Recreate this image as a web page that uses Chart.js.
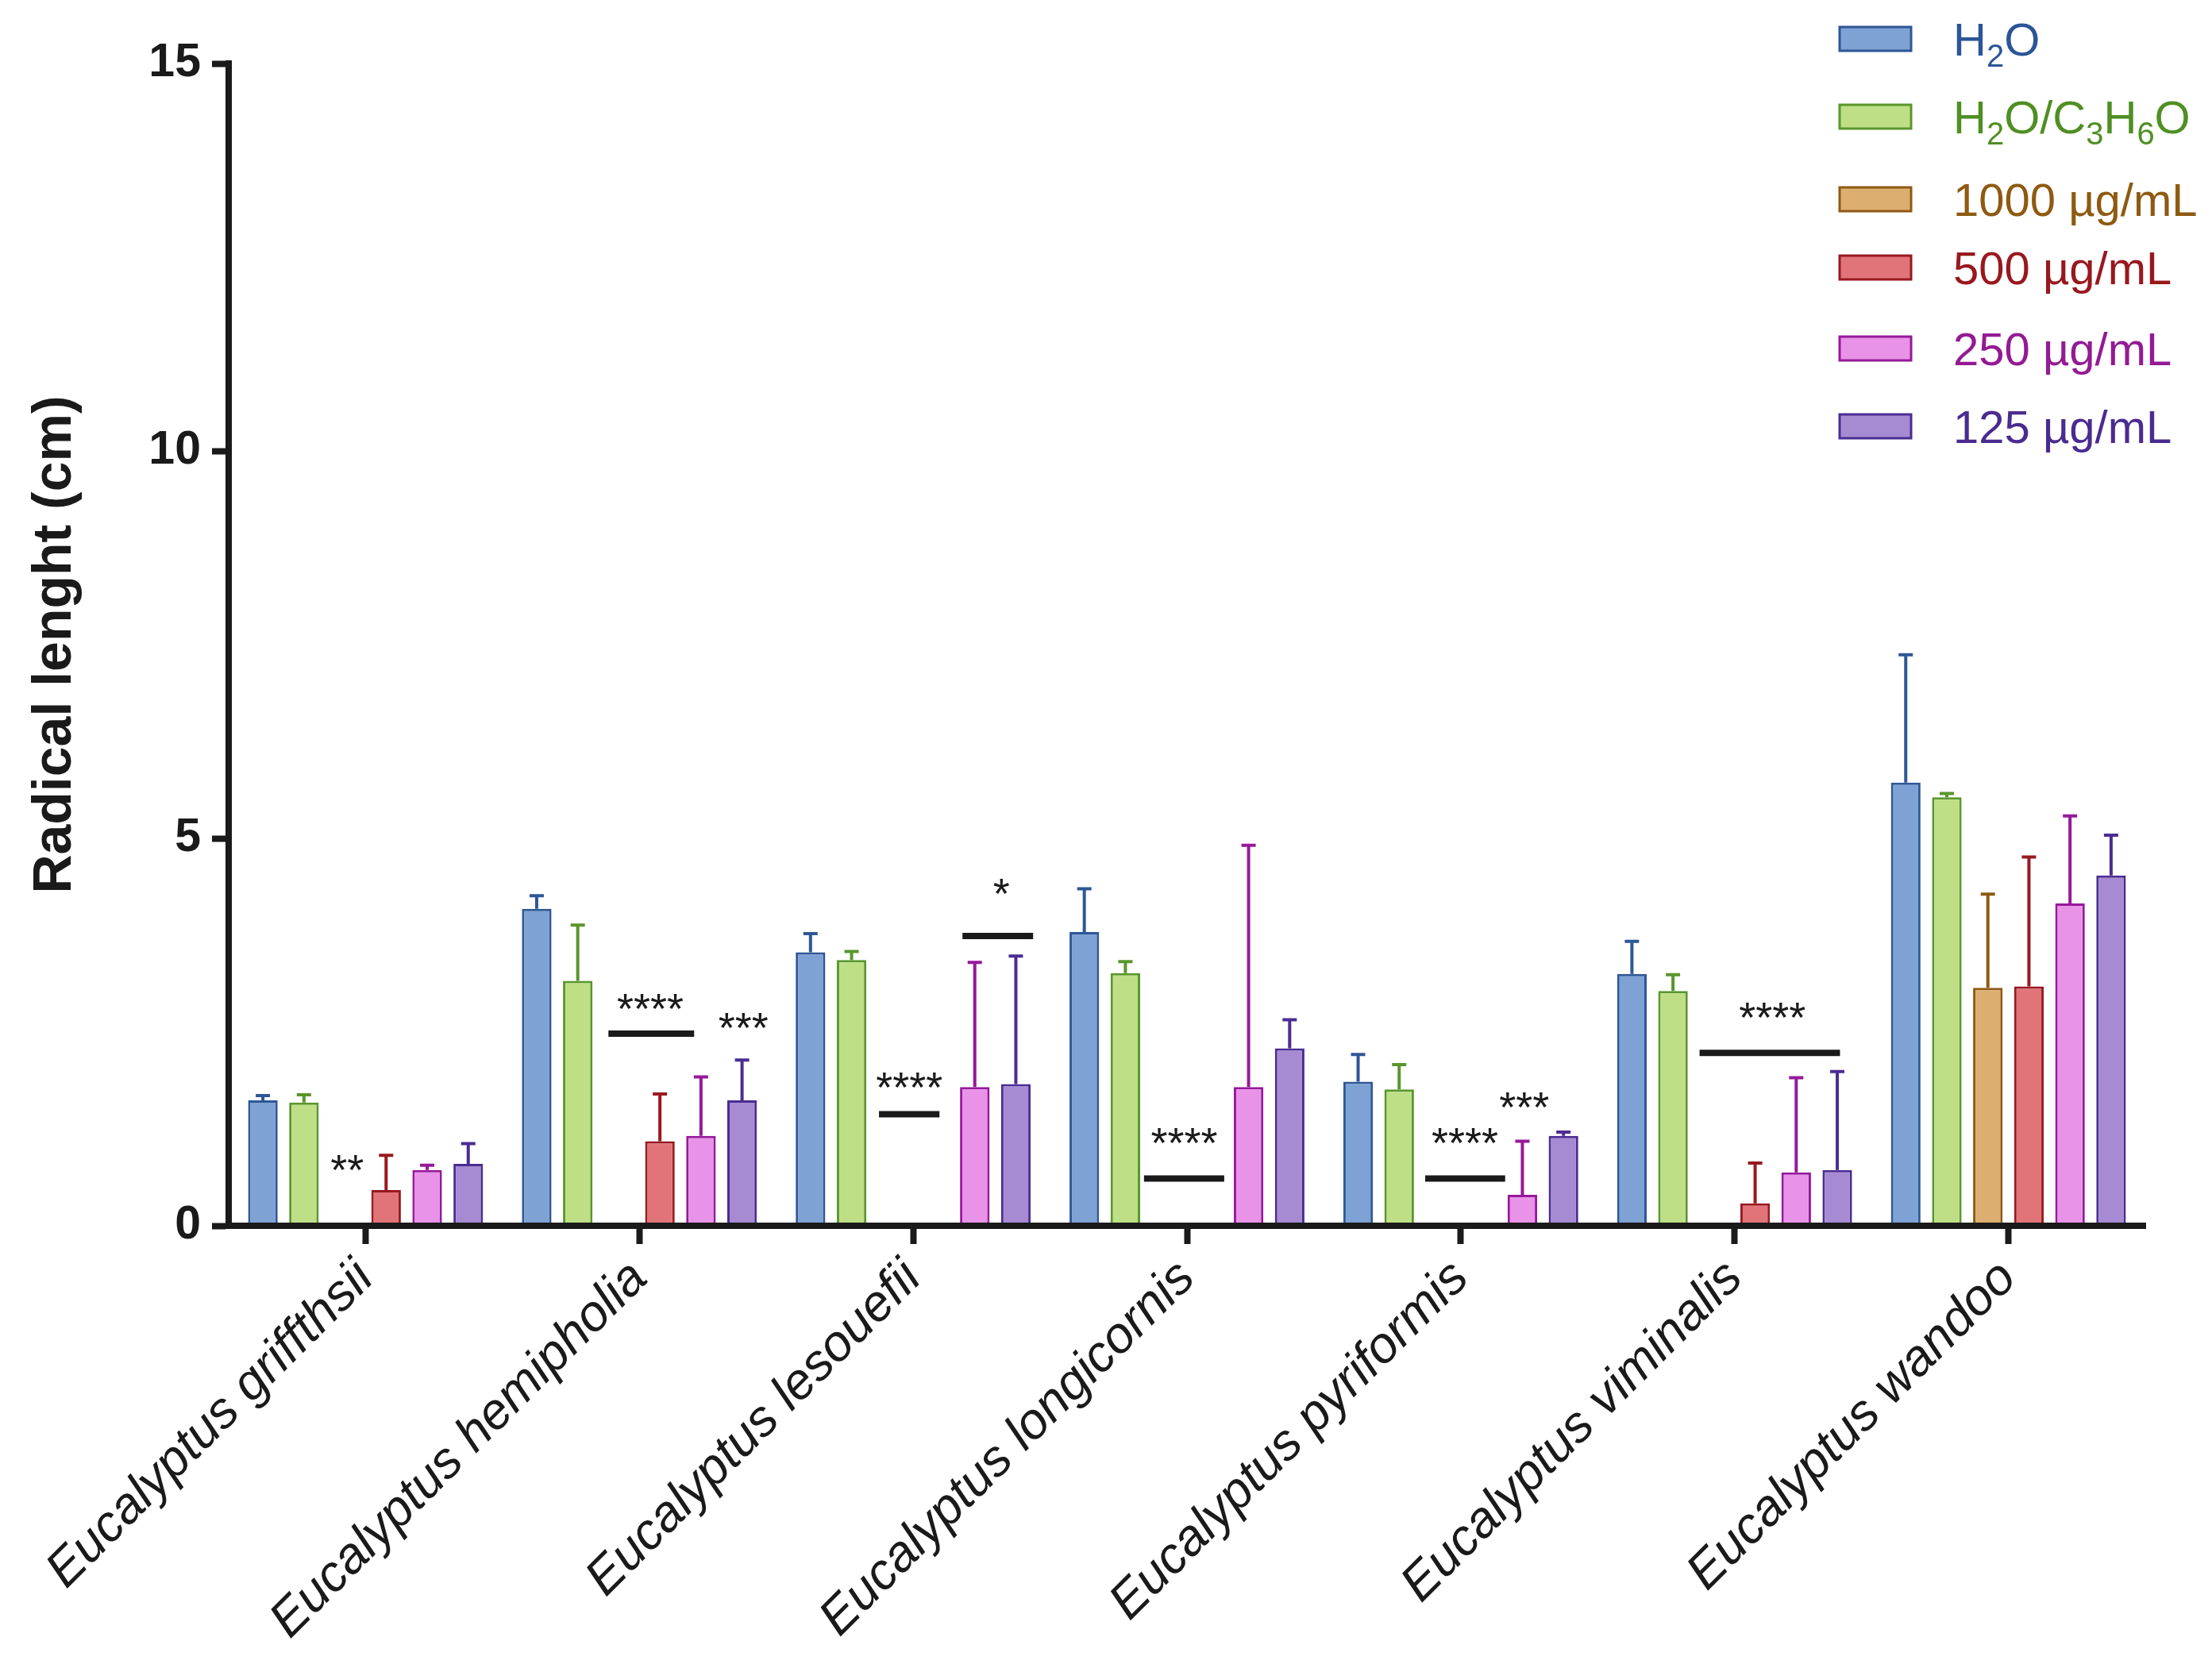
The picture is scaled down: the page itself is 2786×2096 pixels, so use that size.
<!DOCTYPE html>
<html>
<head>
<meta charset="utf-8">
<script src="https://cdn.jsdelivr.net/npm/chart.js@4.4.1/dist/chart.umd.min.js"></script>
<style>
  html, body { margin: 0; padding: 0; background: #fff; }
</style>
</head>
<body>
<canvas id="bars" width="2786" height="2096"></canvas>
<script>
// categories and series
const species = ['Eucalyptus griffthsii', 'Eucalyptus hemipholia', 'Eucalyptus lesouefii',
  'Eucalyptus longicornis', 'Eucalyptus pyriformis', 'Eucalyptus viminalis', 'Eucalyptus wandoo'];
const seriesNames = ['H₂O', 'H₂O/C₃H₆O', '1000 µg/mL', '500 µg/mL', '250 µg/mL', '125 µg/mL'];

// means (cm) and upper error (SD)
const h2o = [1.62, 4.09, 3.53, 3.79, 1.86, 3.25, 5.72];
const h2oSd = [0.06, 0.17, 0.24, 0.56, 0.35, 0.42, 1.65];
const h2oAcetone = [1.59, 3.16, 3.43, 3.26, 1.76, 3.03, 5.53];
const h2oAcetoneSd = [0.10, 0.72, 0.11, 0.15, 0.32, 0.21, 0.05];
const c1000 = [0, 0, 0, 0, 0, 0, 3.07];
const c1000Sd = [0, 0, 0, 0, 0, 0, 1.21];
const c500 = [0.46, 1.09, 0, 0, 0, 0.29, 3.09];
const c500Sd = [0.45, 0.61, 0, 0, 0, 0.52, 1.67];
const c250 = [0.72, 1.16, 1.79, 1.79, 0.40, 0.69, 4.16];
const c250Sd = [0.06, 0.76, 1.61, 3.12, 0.69, 1.22, 1.13];
const c125 = [0.80, 1.62, 1.83, 2.29, 1.16, 0.72, 4.52];
const c125Sd = [0.26, 0.52, 1.65, 0.37, 0.05, 1.27, 0.52];

const yTicks = [0, 5, 10, 15];

// significance marks (category index, offset in category units, value)
const starText = ['**', '****', '***', '****', '*', '****', '****', '***', '****'];
const starCat = [0, 1, 1, 2, 2, 3, 4, 4, 5];
const starOff = [-0.067, 0.04, 0.38, -0.014, 0.322, -0.01, 0.015, 0.232, 0.138];
const starY = [0.85, 2.93, 2.68, 1.91, 4.41, 1.20, 1.20, 1.66, 2.82];
const barCat = [1, 2, 2, 3, 4, 5];
const barFrom = [-0.113, -0.125, 0.18, -0.157, -0.13, -0.128];
const barTo = [0.2, 0.096, 0.438, 0.136, 0.162, 0.385];
const barY = [2.48, 1.44, 3.74, 0.61, 0.61, 2.23];

const fills = ['#7ea2d4', '#bfdf87', '#dcae70', '#e07479', '#e893e8', '#a68bd2'];
const edges = ['#2e5797', '#5a962c', '#8f5a14', '#98191f', '#96199a', '#4b2c93'];
const textCols = ['#2b5597', '#4f8f23', '#8e5a12', '#98181e', '#941a94', '#4a2b8f'];
const ink = '#1a1a1a';

const means = [h2o, h2oAcetone, c1000, c500, c250, c125];
const sds = [h2oSd, h2oAcetoneSd, c1000Sd, c500Sd, c250Sd, c125Sd];

const errorBars = {
  id: 'errorBars',
  afterDatasetsDraw(chart) {
    const ctx = chart.ctx;
    const y = chart.scales.y;
    ctx.save();
    ctx.lineWidth = 4;
    ctx.lineCap = 'butt';
    chart.data.datasets.forEach((ds, i) => {
      const meta = chart.getDatasetMeta(i);
      meta.data.forEach((el, j) => {
        const sd = sds[i][j];
        if (!sd) return;
        const top = y.getPixelForValue(ds.data[j] + sd);
        ctx.strokeStyle = edges[i];
        ctx.beginPath();
        ctx.moveTo(el.x, el.y);
        ctx.lineTo(el.x, top);
        ctx.moveTo(el.x - 9, top);
        ctx.lineTo(el.x + 9, top);
        ctx.stroke();
      });
    });
    ctx.restore();
  }
};

const significance = {
  id: 'significance',
  afterDatasetsDraw(chart) {
    const ctx = chart.ctx;
    const x = chart.scales.x, y = chart.scales.y;
    ctx.save();
    ctx.strokeStyle = ink;
    ctx.lineWidth = 8;
    barCat.forEach((c, k) => {
      const py = y.getPixelForValue(barY[k]);
      ctx.beginPath();
      ctx.moveTo(x.getPixelForValue(c + barFrom[k]), py);
      ctx.lineTo(x.getPixelForValue(c + barTo[k]), py);
      ctx.stroke();
    });
    const size = 54;
    ctx.fillStyle = ink;
    ctx.font = size + 'px "Liberation Sans", Arial, sans-serif';
    ctx.textAlign = 'center';
    ctx.textBaseline = 'alphabetic';
    starText.forEach((t, k) => {
      const px = x.getPixelForValue(starCat[k] + starOff[k]);
      const py = y.getPixelForValue(starY[k]) + size * 0.57;
      ctx.fillText(t, px, py);
    });
    ctx.restore();
  }
};

const subMap = { '₀': '0', '₁': '1', '₂': '2', '₃': '3', '₄': '4', '₅': '5', '₆': '6', '₇': '7', '₈': '8', '₉': '9' };
const legendBox = {
  id: 'legendBox',
  afterDraw(chart) {
    const ctx = chart.ctx;
    const rows = [49, 147, 251, 337, 439, 537];
    const size = 58, sub = 40;
    ctx.save();
    ctx.textBaseline = 'alphabetic';
    ctx.textAlign = 'left';
    seriesNames.forEach((name, i) => {
      const cy = rows[i];
      ctx.fillStyle = fills[i];
      ctx.fillRect(2317, cy - 15, 90, 30);
      ctx.strokeStyle = edges[i];
      ctx.lineWidth = 3;
      ctx.strokeRect(2317, cy - 15, 90, 30);
      let px = 2460;
      const base = cy + 21;
      ctx.fillStyle = textCols[i];
      for (const ch of name) {
        if (subMap[ch]) {
          ctx.font = sub + 'px "Liberation Sans", Arial, sans-serif';
          ctx.fillText(subMap[ch], px, base + 14);
          px += ctx.measureText(subMap[ch]).width;
        } else {
          ctx.font = size + 'px "Liberation Sans", Arial, sans-serif';
          ctx.fillText(ch, px, base);
          px += ctx.measureText(ch).width;
        }
      }
    });
    ctx.restore();
  }
};

new Chart(document.getElementById('bars'), {
  type: 'bar',
  data: {
    labels: species,
    datasets: seriesNames.map((n, i) => ({
      label: n,
      data: means[i],
      backgroundColor: fills[i],
      borderColor: edges[i],
      borderWidth: 3
    }))
  },
  options: {
    responsive: false,
    devicePixelRatio: 1,
    animation: false,
    layout: { padding: { top: 80, right: 84, left: 0, bottom: 0 } },
    plugins: { legend: { display: false }, tooltip: { enabled: false } },
    datasets: { bar: { barPercentage: 0.72, categoryPercentage: 0.9 } },
    scales: {
      x: {
        offset: true,
        grid: { drawOnChartArea: false, offset: false, tickLength: 23, tickWidth: 8, tickColor: ink, z: 1 },
        border: { display: true, width: 8, color: ink, z: 1 },
        ticks: {
          autoSkip: false, minRotation: 45, maxRotation: 45, padding: 6, color: ink,
          font: { family: '"Liberation Sans", Arial, sans-serif', style: 'italic', size: 64 }
        },
        afterFit(s) { s.height = 552; }
      },
      y: {
        min: 0, max: 15,
        afterBuildTicks(s) { s.ticks = yTicks.map(v => ({ value: v })); },
        grid: { drawOnChartArea: false, tickLength: 21, tickWidth: 8, tickColor: ink, z: 1 },
        border: { width: 8, color: ink, z: 1 },
        ticks: {
          padding: 14, color: ink,
          font: { family: '"Liberation Sans", Arial, sans-serif', weight: 'bold', size: 59 }
        },
        title: {
          display: true, text: 'Radical lenght (cm)', color: ink,
          font: { family: '"Liberation Sans", Arial, sans-serif', weight: 'bold', size: 68 },
          padding: { top: 29, bottom: 0 }
        },
        afterFit(s) { s.width = 288; }
      }
    }
  },
  plugins: [errorBars, significance, legendBox]
});
</script>
</body>
</html>
